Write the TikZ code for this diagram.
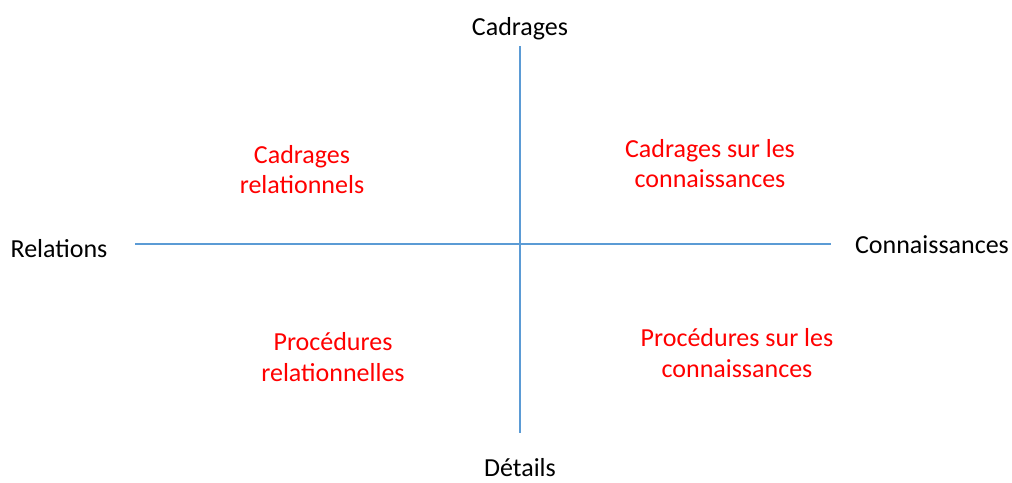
\documentclass[tikz,border=0pt]{standalone}
\usepackage{fontspec}
\setmainfont{Carlito}
\definecolor{axisblue}{RGB}{91,155,213}
\definecolor{labred}{RGB}{255,0,0}
\begin{document}
\begin{tikzpicture}[x=1pt,y=-1pt,
  axis/.style={draw=axisblue,line width=1.2pt},
  axlabel/.style={inner sep=0pt,anchor=base,font=\fontsize{26}{31}\selectfont,text=black},
  quad/.style={inner sep=0pt,anchor=base,align=center,font=\fontsize{26}{30.5}\selectfont,text=labred}]
\useasboundingbox (0,0) rectangle (1012,482);
\coordinate (top) at (520,46);
\coordinate (bot) at (520,433);
\coordinate (left) at (135,244);
\coordinate (right) at (831,244);
\draw[axis] (top) -- (bot);
\draw[axis] (left) -- (right);
\node[axlabel] (cadrages) at (520,35) {Cadrages};
\node[axlabel] (details) at (520,476) {Détails};
\node[axlabel] (relations) at (59,257) {Relations};
\node[axlabel] (connaissances) at (932,253) {Connaissances};
\node[quad] (cr) at (302,193.5) {Cadrages\\relationnels};
\node[quad] (cc) at (710,187.5) {Cadrages sur les\\connaissances};
\node[quad] (pr) at (333,381) {Procédures\\relationnelles};
\node[quad] (pc) at (737,377) {Procédures sur les\\connaissances};
\end{tikzpicture}
\end{document}
